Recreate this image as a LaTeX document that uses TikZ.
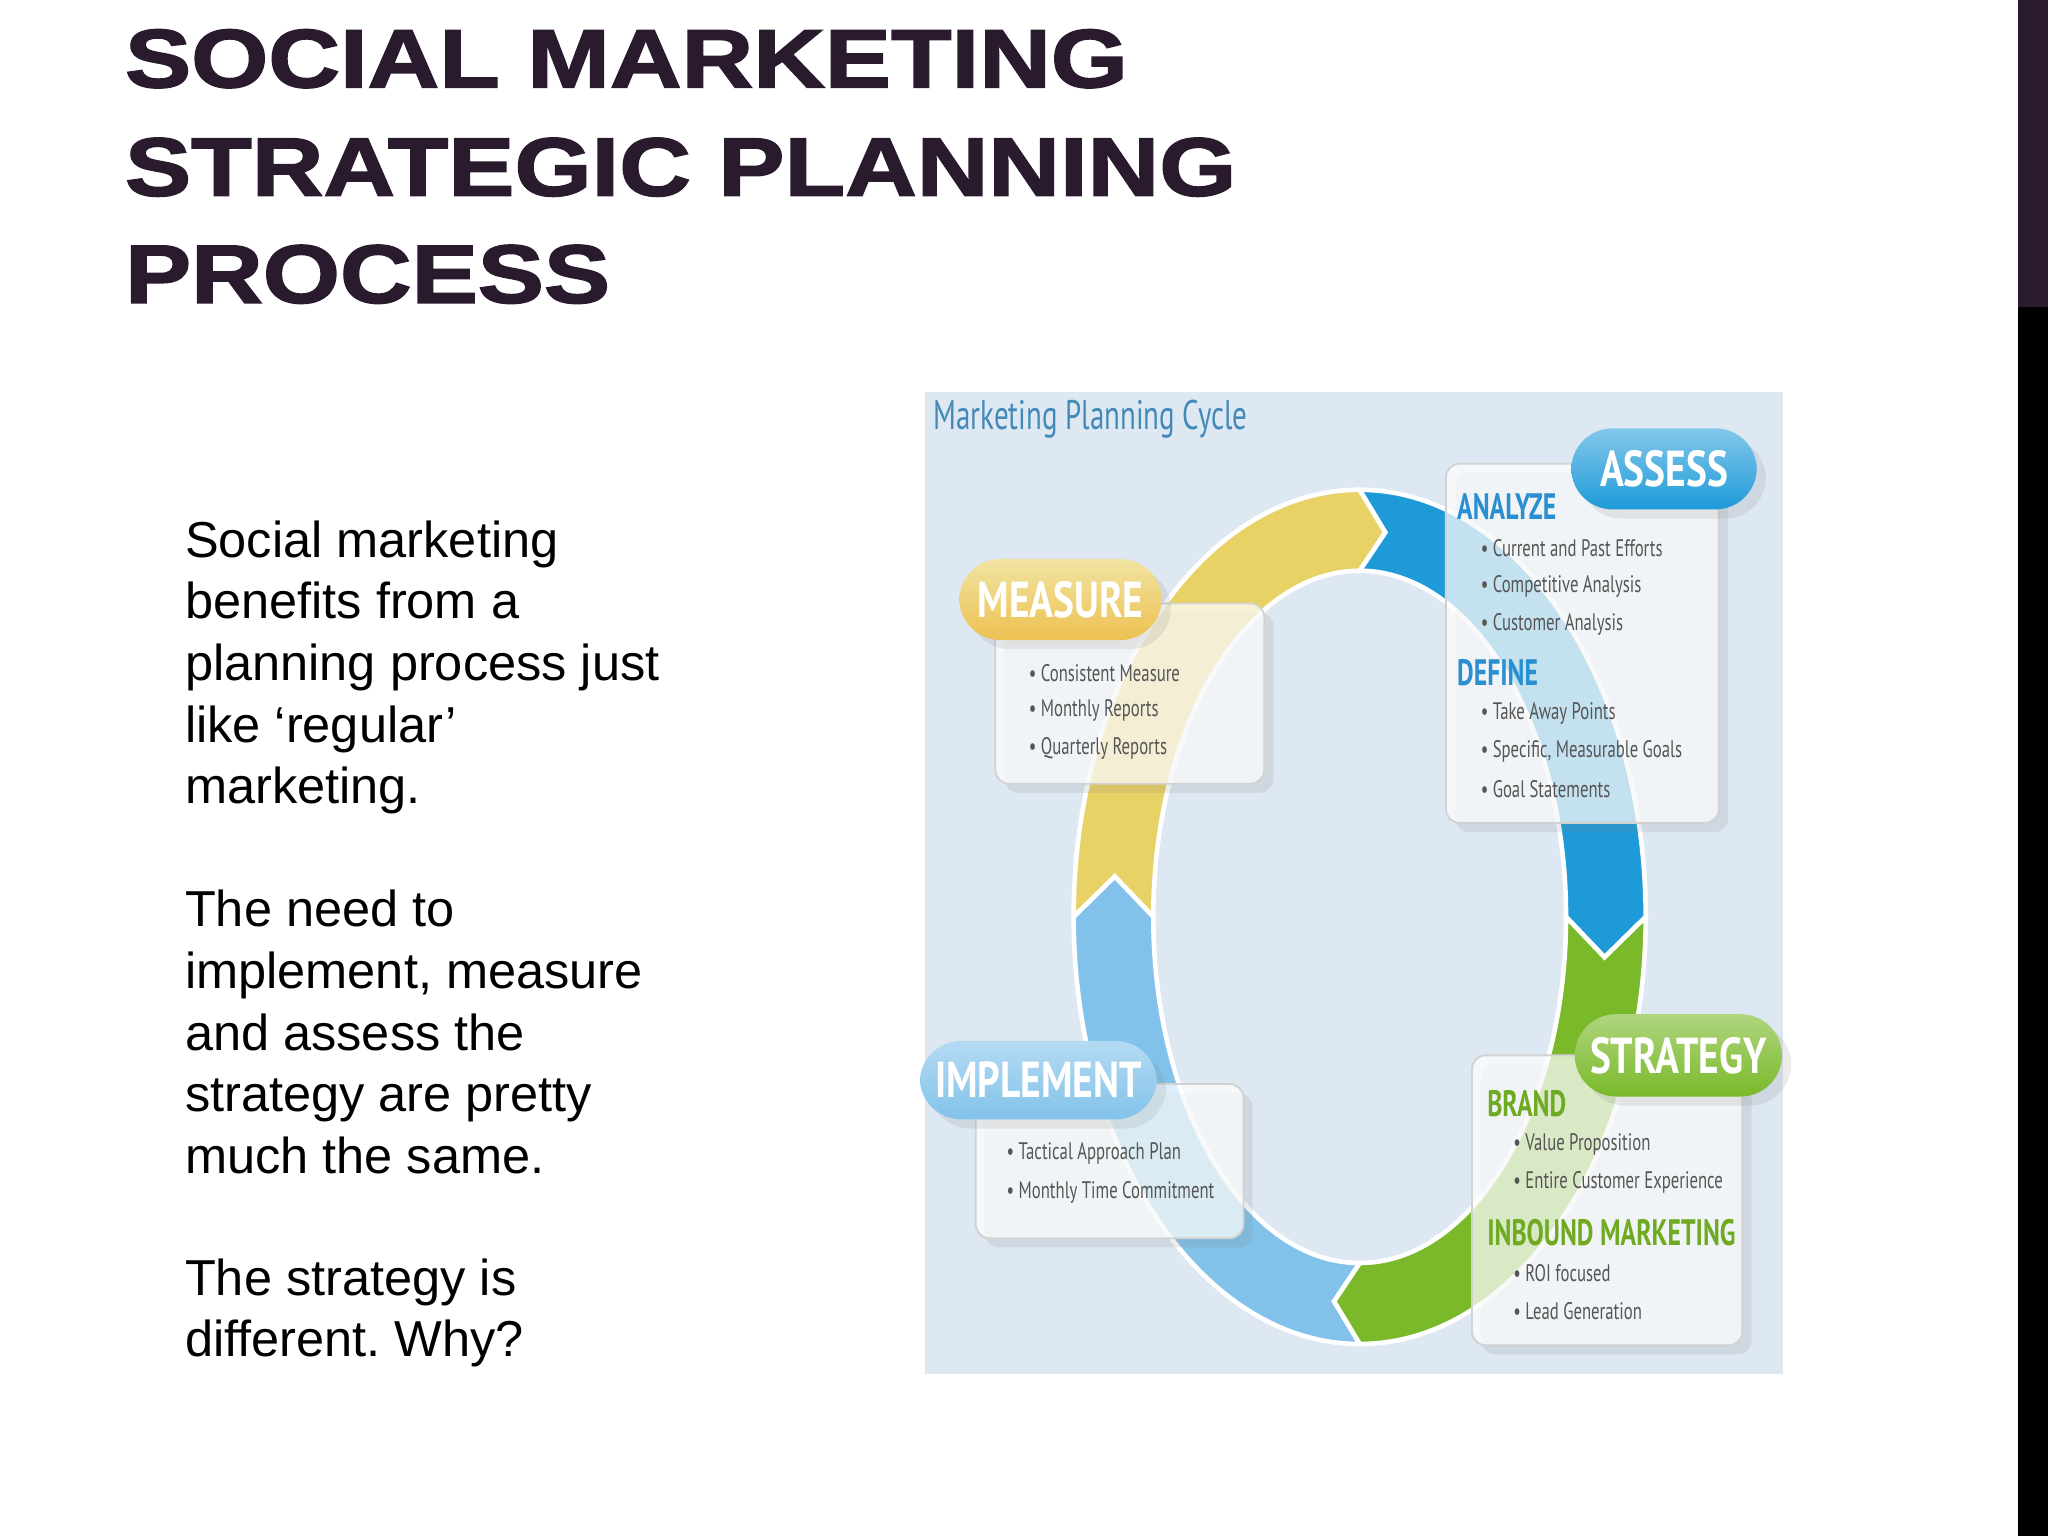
\documentclass[tikz,border=0pt]{standalone}
\usepackage{fontspec}
\setmainfont{Liberation Sans}
\newfontfamily\heavy[FakeStretch=1.2,FakeBold=2]{Liberation Sans}
\newfontfamily\cond[FakeStretch=0.78]{PT Sans}
\newfontfamily\condn[FakeStretch=0.7]{PT Sans}
\usetikzlibrary{shadows}
\frenchspacing
\definecolor{ttl}{HTML}{2A1A2E}
\definecolor{bgb}{HTML}{DDE8F3}
\definecolor{cblue}{HTML}{1E9AD8}
\definecolor{cgreen}{HTML}{7AB929}
\definecolor{clblue}{HTML}{82C2EA}
\definecolor{cyellow}{HTML}{E8D165}
\definecolor{hblue}{HTML}{2A8FD0}
\definecolor{hgreen}{HTML}{6FAA22}
\definecolor{btxt}{HTML}{555555}
\tikzset{
  ttlstyle/.style={anchor=west,inner sep=0pt,text=ttl,font=\heavy\fontsize{18}{18}\selectfont\bfseries},
  body/.style={anchor=north west,inner sep=0pt,align=left,font=\fontsize{11}{13.4}\selectfont,text=black},
  card/.style={draw=gray!35,fill=white,fill opacity=0.72,text opacity=1,rounded corners=3pt,drop shadow={opacity=0.15,shadow xshift=2pt,shadow yshift=-2pt}},
  pill/.style={rounded corners=9pt,text=white,font=\cond\fontsize{11}{11}\selectfont\bfseries,drop shadow={opacity=0.15,shadow xshift=2pt,shadow yshift=-2pt}},
  head/.style={anchor=west,inner sep=0pt,font=\condn\fontsize{8}{8}\selectfont\bfseries},
  bul/.style={anchor=west,inner sep=0pt,text=btxt,font=\condn\fontsize{5.2}{5.2}\selectfont},
  seg/.style={draw=white,line width=1pt}
}
\newcommand{\ringseg}[3]{%
  \path[seg,fill=#3] (#1:219 and 327) arc[start angle=#1,end angle=#2,x radius=219,y radius=327]
    -- (#2-6:188.5 and 296) -- (#2:158 and 265)
    arc[start angle=#2,end angle=#1,x radius=158,y radius=265]
    -- (#1-6:188.5 and 296) -- cycle;}
\begin{document}
\begin{tikzpicture}[x=0.01cm,y=-0.01cm]
\useasboundingbox (0,0) rectangle (1568,1176);
\fill[white] (0,0) rectangle (1568,1176);
\fill[ttl] (1545,0) rectangle (1568,235);
\fill[black] (1545,235) rectangle (1568,1176);
\node[ttlstyle] (t1) at (95,45) {SOCIAL MARKETING};
\node[ttlstyle] (t2) at (95,128) {STRATEGIC PLANNING};
\node[ttlstyle] (t3) at (95,210) {PROCESS};
\node[body] (b1) at (141,398) {Social marketing\\benefits from a\\planning process just\\like ‘regular’\\marketing.};
\node[body] (b2) at (141,681) {The need to\\implement, measure\\and assess the\\strategy are pretty\\much the same.};
\node[body] (b3) at (141,963) {The strategy is\\different. Why?};
% diagram
\fill[bgb] (708,300) rectangle (1365,1052);
\node[anchor=west,inner sep=0pt,text=hblue!70!gray,font=\condn\fontsize{9}{9}\selectfont] (mpc) at (714,321) {Marketing Planning Cycle};
\begin{scope}[shift={(1041,702)},y=0.01cm]
\ringseg{180}{90}{cyellow}
\ringseg{90}{0}{cblue}
\ringseg{0}{-90}{cgreen}
\ringseg{-90}{-180}{clblue}
\end{scope}
% ASSESS
\path[card] (1107,355) rectangle (1316,630);
\node[pill,top color=cblue!55,bottom color=cblue,minimum width=1.42cm,minimum height=0.62cm] (assess) at (1274,359) {ASSESS};
\node[head,text=hblue] (analyze) at (1115,388) {ANALYZE};
\node[bul] (a1) at (1133,420) {• Current and Past Efforts};
\node[bul] (a2) at (1133,449) {• Competitive Analysis};
\node[bul] (a3) at (1133,478) {• Customer Analysis};
\node[head,text=hblue] (define) at (1115,515) {DEFINE};
\node[bul] (d1) at (1133,546) {• Take Away Points};
\node[bul] (d2) at (1133,575) {• Specific, Measurable Goals};
\node[bul] (d3) at (1133,604) {• Goal Statements};
% MEASURE
\path[card] (762,462) rectangle (968,600);
\node[pill,top color=cyellow!60,bottom color=cyellow!80!orange,minimum width=1.55cm,minimum height=0.62cm] (measure) at (812,459) {MEASURE};
\node[bul] (m1) at (787,515) {• Consistent Measure};
\node[bul] (m2) at (787,544) {• Monthly Reports};
\node[bul] (m3) at (787,573) {• Quarterly Reports};
% IMPLEMENT
\path[card] (747,830) rectangle (952,948);
\node[pill,top color=clblue!60,bottom color=clblue,minimum width=1.54cm,minimum height=0.6cm] (impl) at (795,827) {IMPLEMENT};
\node[bul] (i1) at (770,883) {• Tactical Approach Plan};
\node[bul] (i2) at (770,913) {• Monthly Time Commitment};
% STRATEGY
\path[card] (1127,808) rectangle (1334,1030);
\node[pill,top color=cgreen!60,bottom color=cgreen,minimum width=1.4cm,minimum height=0.63cm] (strat) at (1285,808) {STRATEGY};
\node[head,text=hgreen] (brand) at (1138,845) {BRAND};
\node[bul] (s1) at (1158,876) {• Value Proposition};
\node[bul] (s2) at (1158,905) {• Entire Customer Experience};
\node[head,text=hgreen] (inb) at (1138,944) {INBOUND MARKETING};
\node[bul] (s3) at (1158,975) {• ROI focused};
\node[bul] (s4) at (1158,1004) {• Lead Generation};
\end{tikzpicture}
\end{document}
